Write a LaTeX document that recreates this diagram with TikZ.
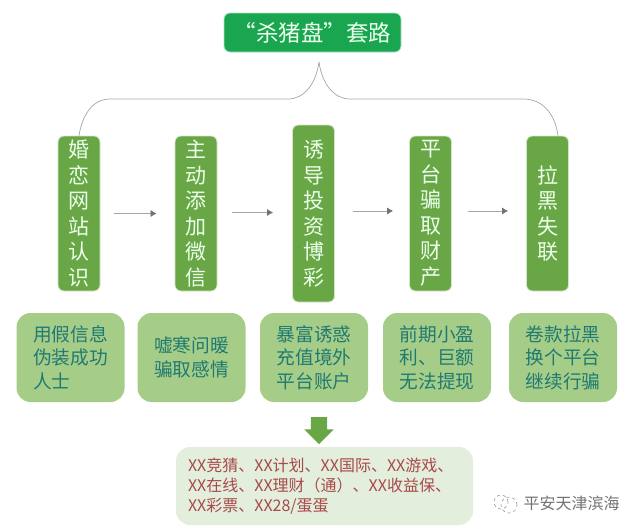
\documentclass[tikz,border=0pt]{standalone}
\usepackage{fontspec}
\setmainfont{Noto Sans CJK SC}
\usetikzlibrary{shapes.arrows,arrows.meta}
\definecolor{titlegreen}{HTML}{1AA551}
\definecolor{stepgreen}{HTML}{69A746}
\definecolor{notegreen}{HTML}{A6CD88}
\definecolor{listgreen}{HTML}{E3EEDD}
\definecolor{notetext}{HTML}{1F7A72}
\definecolor{listtext}{HTML}{A84A4A}
\tikzset{
  titlebox/.style={fill=titlegreen,draw=titlegreen!35,line width=0.8pt,rounded corners=6pt,
    minimum width=177pt,minimum height=39pt,inner sep=0pt,text=green!8,font=\fontsize{22.5}{23}\selectfont},
  stepbox/.style={fill=stepgreen,draw=stepgreen!30,line width=0.8pt,rounded corners=6pt,
    minimum width=42pt,minimum height=155pt,inner sep=0pt,align=center,text=green!8,
    font=\fontsize{21}{25.5}\selectfont},
  notebox/.style={fill=notegreen,rounded corners=14pt,minimum width=108pt,minimum height=89pt,
    inner sep=0pt,align=left,text=notetext,font=\fontsize{18.7}{23.4}\selectfont},
  listbox/.style={fill=listgreen,rounded corners=14pt,minimum width=297pt,minimum height=78pt,
    inner sep=0pt,text width=273pt,align=left,text=listtext,font=\fontsize{16}{20}\selectfont},
  flowline/.style={draw=black!35,line width=0.7pt,-{Latex[length=6pt,width=7pt,color=black!55]}},
  treeline/.style={draw=black!35,line width=0.7pt},
  iconring/.style={draw=black!40,dashed,line width=0.6pt},
}
\begin{document}
\begin{tikzpicture}[x=1pt,y=-1pt]
  \useasboundingbox (0,0) rectangle (640,531);
  \node[titlebox] (title) at (312.5,32.5) {“杀猪盘”套路};
  \node[stepbox] (meet) at (79,213.5) {婚\\恋\\网\\站\\认\\识};
  \node[stepbox] (wechat) at (196,213.5) {主\\动\\添\\加\\微\\信};
  \node[stepbox,minimum height=177pt] (lure) at (313.5,213.5) {诱\\导\\投\\资\\博\\彩};
  \node[stepbox] (cheat) at (430.5,213.5) {平\\台\\骗\\取\\财\\产};
  \node[stepbox] (vanish) at (547.5,213.5) {拉\\黑\\失\\联};

  \node[notebox] (fakeid) at (70.5,357.5) {用假信息\\伪装成功\\人士};
  \node[notebox] (caring) at (191.5,357.5) {嘘寒问暖\\骗取感情};
  \node[notebox] (rich) at (314,357.5) {暴富诱惑\\充值境外\\平台账户};
  \node[notebox] (profit) at (437,357.5) {前期小盈\\利、巨额\\无法提现};
  \node[notebox] (block) at (563,357.5) {卷款拉黑\\换个平台\\继续行骗};

  \node[listbox] (platforms) at (324.5,486) {XX竞猜、XX计划、XX国际、XX游戏、\\XX在线、XX理财（通）、XX收益保、\\XX彩票、XX28/蛋蛋};
  \node[single arrow,fill=stepgreen,shape border rotate=270,inner sep=0pt,text width=16pt,
    minimum height=27pt,single arrow head extend=6.5pt,
    single arrow head indent=0pt] (down) at (319,426.5) {};

  \coordinate (fork) at (319,62);
  \draw[treeline] (meet.north) .. controls (82,116) and (92,99) .. (110,99) -- (288,99)
    .. controls (304,99) and (316,84) .. (fork);
  \draw[treeline] ([xshift=10.5pt]vanish.north) .. controls (555,114) and (543,99) .. (523,99) -- (350,99)
    .. controls (334,99) and (322,84) .. (fork);

  \draw[flowline,shorten <=14pt,shorten >=18pt] (meet) -- (wechat);
  \draw[flowline,shorten <=15pt,shorten >=19pt] ([yshift=1pt]wechat.east) -- ([yshift=1pt]lure.west);
  \draw[flowline,shorten <=18pt,shorten >=16pt] ([yshift=2.5pt]lure.east) -- ([yshift=2.5pt]cheat.west);
  \draw[flowline,shorten <=16pt,shorten >=18pt] ([yshift=2.5pt]cheat.east) -- ([yshift=2.5pt]vanish.west);

  \node[text=black!55,inner sep=0pt,font=\fontsize{16}{16}\selectfont] (mark) at (571.5,503) {平安天津滨海};
  \path[iconring] (501,502) circle[radius=7pt];
  \path[iconring] (509,505) circle[radius=8pt];
\end{tikzpicture}
\end{document}
